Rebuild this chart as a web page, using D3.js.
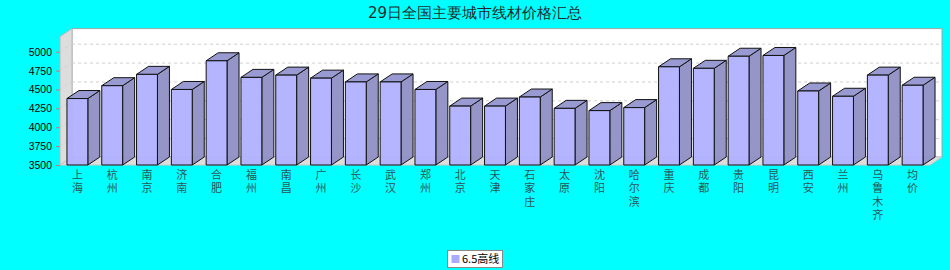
<!DOCTYPE html>
<html>
<head>
<meta charset="utf-8">
<script src="https://cdn.jsdelivr.net/npm/d3@7"></script>
<style>
  body { margin: 0; background: #00ffff; }
  svg { display: block; }
</style>
</head>
<body>
<div id="chart"></div>
<script>
const cities = ["上海", "杭州", "南京", "济南", "合肥", "福州", "南昌", "广州", "长沙", "武汉",
  "郑州", "北京", "天津", "石家庄", "太原", "沈阳", "哈尔滨", "重庆", "成都", "贵阳",
  "昆明", "西安", "兰州", "乌鲁木齐", "均价"];
const prices = [4380, 4550, 4700, 4500, 4880, 4660, 4690, 4650, 4600, 4600,
  4500, 4280, 4280, 4400, 4250, 4220, 4260, 4800, 4780, 4940,
  4950, 4480, 4410, 4690, 4556];
const yTicks = [3500, 3750, 4000, 4250, 4500, 4750, 5000];
const gridTicks = [3750, 4000, 4250, 4500, 4750, 5000];
const seriesName = "6.5高线";
const title = "29日全国主要城市线材价格汇总";

const width = 950;
const height = 270;
const plot = {left: 60, right: 930, top: 36.6, bottom: 165};
const dx = 12, dy = -8;   // 3d depth offset

const svg = d3.select("#chart")
              .append("svg")
              .attr("width", width)
              .attr("height", height)
              .style("font-family", "'DejaVu Sans', sans-serif");

svg.append("rect")
   .attr("width", width)
   .attr("height", height)
   .attr("fill", "#00ffff");

const xScale = d3.scaleBand()
                 .domain(cities)
                 .range([plot.left, plot.right])
                 .paddingInner(0.4)
                 .paddingOuter(0.2);

const yScale = d3.scaleLinear()
                 .domain([3500, 5200])
                 .range([plot.bottom, plot.top]);

// title
svg.append("text")
   .attr("x", 475)
   .attr("y", 18)
   .attr("text-anchor", "middle")
   .attr("font-size", 15)
   .attr("fill", "#1e2a2a")
   .text(title);

// back wall
svg.append("rect")
   .attr("x", plot.left + dx)
   .attr("y", plot.top + dy)
   .attr("width", plot.right - plot.left)
   .attr("height", plot.bottom - plot.top)
   .attr("fill", "#ffffff")
   .attr("stroke", "#9aa8a8")
   .attr("stroke-width", 1);

// left wall
svg.append("polygon")
   .attr("points", [[plot.left, plot.top], [plot.left + dx, plot.top + dy],
                    [plot.left + dx, plot.bottom + dy], [plot.left, plot.bottom]].join(" "))
   .attr("fill", "#dddddd")
   .attr("stroke", "#b8b8b8");

// floor
svg.append("polygon")
   .attr("points", [[plot.left, plot.bottom], [plot.left + dx, plot.bottom + dy],
                    [plot.right + dx, plot.bottom + dy], [plot.right, plot.bottom]].join(" "))
   .attr("fill", "#dddddd")
   .attr("stroke", "#c8c8c8");

// gridlines
const grid = svg.append("g")
                .attr("stroke", "#d0d0d0")
                .attr("stroke-dasharray", "3,3");
grid.selectAll(".gback")
    .data(gridTicks)
    .enter()
    .append("line")
    .attr("x1", plot.left + dx)
    .attr("x2", plot.right + dx)
    .attr("y1", d => yScale(d) + dy + 0.5)
    .attr("y2", d => yScale(d) + dy + 0.5);
grid.selectAll(".gside")
    .data(gridTicks)
    .enter()
    .append("line")
    .attr("x1", plot.left)
    .attr("x2", plot.left + dx)
    .attr("y1", d => yScale(d))
    .attr("y2", d => yScale(d) + dy);

// y axis
const yAxis = svg.append("g");
yAxis.selectAll("line")
     .data(yTicks)
     .enter()
     .append("line")
     .attr("x1", plot.left - 4)
     .attr("x2", plot.left)
     .attr("y1", d => yScale(d) + 0.5)
     .attr("y2", d => yScale(d) + 0.5)
     .attr("stroke", "#c87878");
yAxis.selectAll("text")
     .data(yTicks)
     .enter()
     .append("text")
     .attr("x", plot.left - 8)
     .attr("y", d => yScale(d) + 4)
     .attr("text-anchor", "end")
     .attr("font-size", 10.5)
     .attr("font-family", "'Liberation Sans', sans-serif")
     .attr("fill", "#000")
     .text(d => d);

// bars
const bw = xScale.bandwidth();
const bars = svg.selectAll(".bar")
                .data(cities.map((c, i) => ({city: c, price: prices[i]})))
                .enter()
                .append("g")
                .attr("class", "bar")
                .attr("stroke", "#111")
                .attr("stroke-width", 1)
                .attr("stroke-linejoin", "round");

bars.append("polygon")
    .attr("points", d => {
      const x = xScale(d.city), y = yScale(d.price);
      return [[x + bw, y], [x + bw + dx, y + dy], [x + bw + dx, plot.bottom + dy], [x + bw, plot.bottom]].join(" ");
    })
    .attr("fill", "#8f8fc4")
    .attr("fill-opacity", 0.95);

bars.append("polygon")
    .attr("points", d => {
      const x = xScale(d.city), y = yScale(d.price);
      return [[x, y], [x + dx, y + dy], [x + bw + dx, y + dy], [x + bw, y]].join(" ");
    })
    .attr("fill", "#9a9ad2");

bars.append("rect")
    .attr("x", d => xScale(d.city))
    .attr("y", d => yScale(d.price))
    .attr("width", bw)
    .attr("height", d => plot.bottom - yScale(d.price))
    .attr("fill", "#b0b0ff")
    .attr("fill-opacity", 0.95);

// x labels, one character per line (each char its own text)
const chars = [];
cities.forEach(c => Array.from(c).forEach((ch, i) => chars.push({city: c, ch, i})));
svg.selectAll(".xlabel")
   .data(chars)
   .enter()
   .append("text")
   .attr("class", "xlabel")
   .attr("x", d => xScale(d.city) + bw / 2)
   .attr("y", d => 179 + d.i * 13.3)
   .attr("text-anchor", "middle")
   .attr("font-size", 11)
   .attr("font-family", "'Liberation Sans', 'Noto Sans CJK SC', sans-serif")
   .attr("fill", "#2a5656")
   .text(d => d.ch);

// legend
const legend = svg.append("g").attr("transform", "translate(447.5, 250.5)");
legend.append("rect")
      .attr("width", 55)
      .attr("height", 17)
      .attr("fill", "#fff")
      .attr("stroke", "#888");
legend.append("rect")
      .attr("x", 4)
      .attr("y", 4.5)
      .attr("width", 8)
      .attr("height", 8)
      .attr("fill", "#aaaaff");
legend.append("text")
      .attr("x", 14.5)
      .attr("y", 12.5)
      .attr("font-size", 11)
      .attr("font-family", "'Noto Sans CJK SC', sans-serif")
      .attr("fill", "#000")
      .text(seriesName);
</script>
</body>
</html>
